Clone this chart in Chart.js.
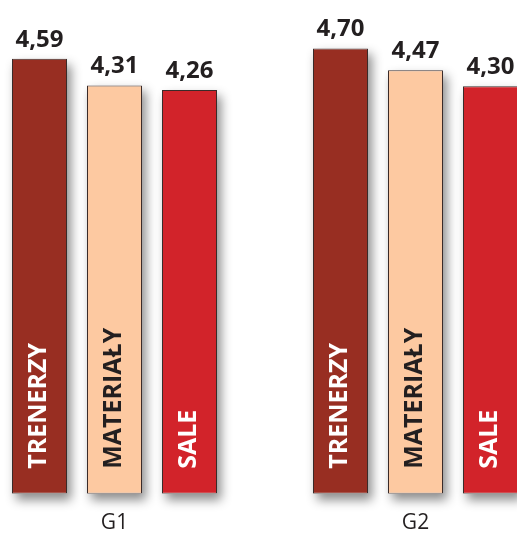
<!DOCTYPE html>
<html><head><meta charset="utf-8">
<script src="https://cdn.jsdelivr.net/npm/chart.js@4/dist/chart.umd.min.js"></script>
<style>
html,body{margin:0;padding:0;overflow:hidden;background:#fff;width:517px;height:533px}
#wrap{position:absolute;left:-36px;top:0;width:602px;height:553px}
</style>
</head><body><div id="wrap"><canvas id="c"></canvas></div>
<script>
const groups = ['G1', 'G2'];
const seriesNames = ['TRENERZY', 'MATERIAŁY', 'SALE'];
const trenerzy = [4.59, 4.70];
const materialy = [4.31, 4.47];
const sale = [4.26, 4.30];
const yMin = 0, yMax = 5;

const barColors = ['#982e22', '#fdc9a1', '#d2232a'];
const innerTextColors = ['#ffffff', '#231f20', '#ffffff'];
const seriesValues = [trenerzy, materialy, sale];

const shadowPlugin = {
  id: 'barShadow',
  beforeDatasetsDraw(chart) {
    const ctx = chart.ctx;
    chart.data.datasets.forEach((ds, i) => {
      const meta = chart.getDatasetMeta(i);
      meta.data.forEach(el => {
        const p = el.getProps(['x', 'y', 'base', 'width'], true);
        ctx.save();
        ctx.shadowColor = 'rgba(0,0,0,0.45)';
        ctx.shadowBlur = 10;
        ctx.shadowOffsetX = 4;
        ctx.shadowOffsetY = 6;
        ctx.fillStyle = '#ffffff';
        ctx.fillRect(p.x - p.width / 2, p.y, p.width, p.base - p.y);
        ctx.restore();
      });
    });
  }
};

const labelPlugin = {
  id: 'barLabels',
  afterDatasetsDraw(chart) {
    const ctx = chart.ctx;
    chart.data.datasets.forEach((ds, i) => {
      const meta = chart.getDatasetMeta(i);
      meta.data.forEach((el, j) => {
        const p = el.getProps(['x', 'y', 'base', 'width'], true);
        const v = ds.data[j];
        ctx.save();
        ctx.fillStyle = '#231f20';
        ctx.font = 'bold 24px "Open Sans"';
        ctx.textAlign = 'center';
        ctx.textBaseline = 'alphabetic';
        ctx.fillText(v.toFixed(2).replace('.', ','), p.x, p.y - 12);
        ctx.restore();

        ctx.save();
        ctx.translate(p.x - 1, p.base - 25);
        ctx.rotate(-Math.PI / 2);
        ctx.fillStyle = innerTextColors[i];
        ctx.font = 'bold 25px "Open Sans"';
        ctx.textAlign = 'left';
        ctx.textBaseline = 'middle';
        ctx.fillText(ds.label, 0, 0);
        ctx.restore();
      });
    });
  }
};

new Chart(document.getElementById('c'), {
  type: 'bar',
  data: {
    labels: groups,
    datasets: seriesNames.map((name, i) => ({
      label: name,
      data: seriesValues[i],
      backgroundColor: barColors[i],
      borderColor: '#3a2b29',
      borderWidth: 1,
      borderSkipped: false,
      categoryPercentage: 0.7475,
      barPercentage: 0.7333
    }))
  },
  options: {
    responsive: true,
    maintainAspectRatio: false,
    animation: false,
    layout: { padding: { top: 20, left: 0, right: 0, bottom: 0 } },
    plugins: { legend: { display: false }, tooltip: { enabled: false } },
    scales: {
      x: {
        type: 'category',
        offset: true,
        grid: { display: false, drawTicks: false },
        border: { display: false },
        ticks: { color: '#231f20', font: { family: 'Open Sans', size: 21 }, padding: 17 }
      },
      y: { display: false, min: yMin, max: yMax }
    }
  },
  plugins: [shadowPlugin, labelPlugin]
});
</script>
</body></html>
